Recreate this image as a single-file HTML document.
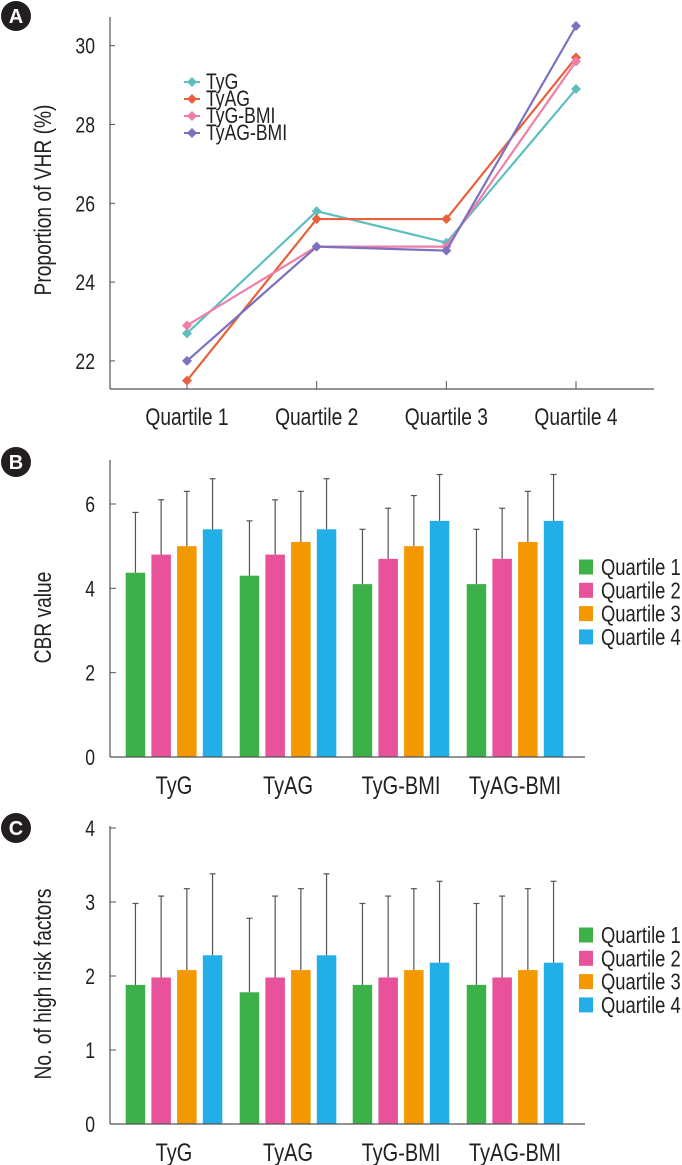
<!DOCTYPE html>
<html><head><meta charset="utf-8"><style>
html,body{margin:0;padding:0;background:#fff}
svg{display:block}
text{font-family:"Liberation Sans",sans-serif;fill:#231f20}
</style></head><body>
<svg id="fig" width="682" height="1165" viewBox="0 0 682 1165" xmlns="http://www.w3.org/2000/svg"></svg>
<script>
// Panel A data
const aCats = ["Quartile 1","Quartile 2","Quartile 3","Quartile 4"];
const aSeriesNames = ["TyG","TyAG","TyG-BMI","TyAG-BMI"];
const aTyG = [22.7, 25.8, 25.0, 28.9];
const aTyAG = [21.5, 25.6, 25.6, 29.7];
const aTyGBMI = [22.9, 24.9, 24.9, 29.6];
const aTyAGBMI = [22.0, 24.9, 24.8, 30.5];
const aTicks = [22, 24, 26, 28, 30];
// Panel B data
const groups = ["TyG","TyAG","TyG-BMI","TyAG-BMI"];
const quartiles = ["Quartile 1","Quartile 2","Quartile 3","Quartile 4"];
const bMeans = [[4.37,4.8,5.0,5.4],[4.3,4.8,5.1,5.4],[4.1,4.7,5.0,5.6],[4.1,4.7,5.1,5.6]];
const bErrTops = [[5.8,6.1,6.3,6.6],[5.6,6.1,6.3,6.6],[5.4,5.9,6.2,6.7],[5.4,5.9,6.3,6.7]];
const bTicks = [0,2,4,6];
// Panel C data
const cMeans = [[1.88,1.98,2.08,2.28],[1.78,1.98,2.08,2.28],[1.88,1.98,2.08,2.18],[1.88,1.98,2.08,2.18]];
const cErrTops = [[2.98,3.08,3.18,3.38],[2.78,3.08,3.18,3.38],[2.98,3.08,3.18,3.28],[2.98,3.08,3.18,3.28]];
const cTicks = [0,1,2,3,4];

const NS="http://www.w3.org/2000/svg";
const svg=document.getElementById('fig');
const SX=0.8;
function mk(tag,attrs,parent){const e=document.createElementNS(NS,tag);for(const k in attrs)e.setAttribute(k,attrs[k]);(parent||svg).appendChild(e);return e;}
function txt(s,attrs,parent){
  const a=Object.assign({},attrs);
  if(a.rot!==undefined){a.transform=`translate(${a.x},${a.y}) rotate(-90) scale(${SX},1)`;delete a.rot;}
  else{a.transform=`translate(${a.x},${a.y}) scale(${SX},1)`;}
  a.x=0;a.y=0;
  const e=mk('text',a,parent);e.textContent=s;return e;}

function panelLabel(letter,cy){
  const g=mk('g',{});
  
  
  mk('circle',{cx:16,cy:cy,r:15,fill:'#231f20'},g);
  const t=mk('text',{x:16,y:cy+7,'text-anchor':'middle','font-size':20,'font-weight':'bold'},g);
  t.textContent=letter;
  t.setAttribute('style','fill:#fff');
}

// ---------- Panel A ----------
const lineColors=["#5fbfbf","#e8603c","#ef7fa8","#7b72bf"];
const aData=[aTyG,aTyAG,aTyGBMI,aTyAGBMI];
const aX0=110,aY0=389,aXR=654,aTop=17;
const aCatX=[187,317,446,576];
function ay(v){return 45.7+(30-v)*39.4;}
function ax(i){return aCatX[0]+i*(aCatX[3]-aCatX[0])/3;}
panelLabel('A',16);
const gA=mk('g',{});


mk('line',{x1:aX0,y1:aTop,x2:aX0,y2:aY0,stroke:'#555','stroke-width':1.2},gA);
mk('line',{x1:aX0,y1:aY0,x2:aXR,y2:aY0,stroke:'#555','stroke-width':1.2},gA);
aTicks.forEach(v=>{
  mk('line',{x1:aX0,y1:ay(v),x2:aX0+5,y2:ay(v),stroke:'#555','stroke-width':1},gA);
  const t=txt(String(v),{x:95,y:ay(v)+8,'text-anchor':'end','font-size':22},gA);
  
  
});
aCats.forEach((c,i)=>{
  mk('line',{x1:ax(i),y1:aY0,x2:ax(i),y2:aY0-8,stroke:'#555','stroke-width':1},gA);
  const t=txt(c,{x:ax(i),y:425,'text-anchor':'middle','font-size':24},gA);
  
  
});
const aYT=txt('Proportion of VHR (%)',{x:51,y:200,rot:1,'text-anchor':'middle','font-size':24},gA);


function diamond(x,y,r,col,parent){return mk('path',{d:`M${x} ${y-r}L${x+r} ${y}L${x} ${y+r}L${x-r} ${y}Z`,fill:col},parent);}
aData.forEach((ser,si)=>{
  const g=mk('g',{},gA);
  
  
  mk('polyline',{points:ser.map((v,i)=>ax(i)+','+ay(v)).join(' '),fill:'none',stroke:lineColors[si],'stroke-width':2.2},g);
  ser.forEach((v,i)=>{const d=diamond(ax(i),ay(v),5,lineColors[si],g);
    
    });
});
aSeriesNames.forEach((n,i)=>{
  const g=mk('g',{},gA);
  
  
  const y=82+i*17;
  mk('line',{x1:184,y1:y,x2:200,y2:y,stroke:lineColors[i],'stroke-width':2},g);
  diamond(192,y,5,lineColors[i],g);
  txt(n,{x:206,y:y+7,'font-size':22},g);
});

// ---------- Bar panels ----------
const barColors=["#3cb14a","#e8529a","#f39800","#22aee6"];
const grpX=[174,288,401,515];
function barPanel(id,label,means,errs,ticks,top,zeroY,topTickY,maxTick,title,legY){
  panelLabel(label,top);
  const g=mk('g',{});
  
  
  const unit=(zeroY-topTickY)/maxTick;
  const y=v=>zeroY-v*unit;
  mk('line',{x1:110,y1:top-2,x2:110,y2:zeroY,stroke:'#555','stroke-width':1.2},g);
  ticks.forEach(v=>{
    mk('line',{x1:110,y1:y(v),x2:116,y2:y(v),stroke:'#555','stroke-width':1},g);
    const t=txt(String(v),{x:95,y:y(v)+8,'text-anchor':'end','font-size':22},g);
    
    
  });
  const bw=19.5,stride=25.7;
  groups.forEach((gn,gi)=>{
    means[gi].forEach((v,qi)=>{
      const cx=grpX[gi]+(qi-1.5)*stride;
      const eb=mk('g',{},g);
      
      
      mk('line',{x1:cx,y1:y(errs[gi][qi]),x2:cx,y2:y(v),stroke:'#555','stroke-width':1.2},eb);
      mk('line',{x1:cx-3,y1:y(errs[gi][qi]),x2:cx+3,y2:y(errs[gi][qi]),stroke:'#555','stroke-width':1.2},eb);
      const r=mk('rect',{x:cx-bw/2,y:y(v),width:bw,height:zeroY-y(v),fill:barColors[qi]},g);
      
      
    });
    const t=txt(gn,{x:grpX[gi],y:zeroY+37,'text-anchor':'middle','font-size':25},g);
    
    
  });
  mk('line',{x1:110,y1:zeroY,x2:585,y2:zeroY,stroke:'#555','stroke-width':1.2},g);
  const yt=txt(title,{x:51,y:(top+zeroY)/2+8,rot:1,'text-anchor':'middle','font-size':24},g);
  
  
  quartiles.forEach((q,i)=>{
    const lg=mk('g',{},g);
    
    
    const ly=legY+i*23.3;
    mk('rect',{x:579,y:ly-7.5,width:14,height:15,fill:barColors[i]},lg);
    txt(q,{x:601,y:ly+8,'font-size':23},lg);
  });
}
barPanel('b','B',bMeans,bErrTops,bTicks,462,757,504,6,'CBR value',567);
barPanel('c','C',cMeans,cErrTops,cTicks,828,1124,828,4,'No. of high risk factors',935);
</script>
</body></html>
